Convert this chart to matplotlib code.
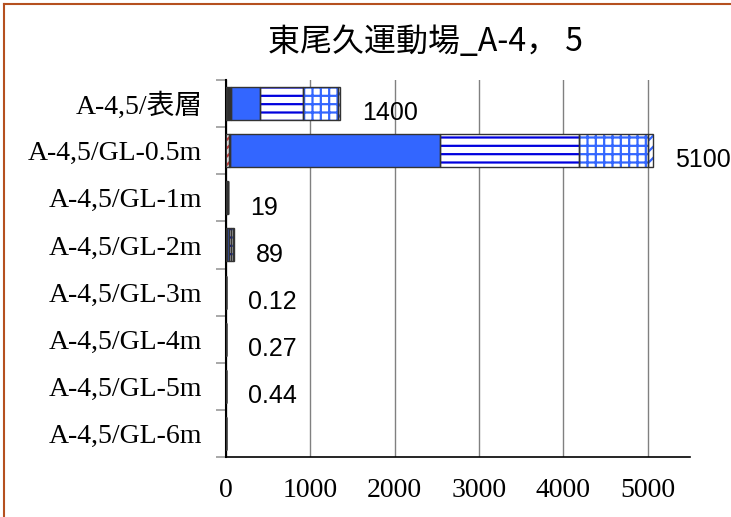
import matplotlib.pyplot as plt
import numpy as np
from matplotlib.lines import Line2D

plt.rcParams['hatch.linewidth'] = 1.6

categories = ["A-4,5/表層", "A-4,5/GL-0.5m", "A-4,5/GL-1m", "A-4,5/GL-2m",
              "A-4,5/GL-3m", "A-4,5/GL-4m", "A-4,5/GL-5m", "A-4,5/GL-6m"]

# stacked components
seg1 = [10, 30, 2, 3, 0.01, 0.02, 0.03, 0.0]
seg2 = [50, 20, 14, 6, 0.05, 0.1, 0.15, 0.0]
seg3 = [340, 2490, 2, 25, 0.03, 0.08, 0.12, 0.0]
seg4 = [510, 1640, 1, 20, 0.02, 0.04, 0.08, 0.0]
seg5 = [415, 820, 0, 30, 0.01, 0.02, 0.04, 0.0]
seg6 = [25, 60, 0, 5, 0.0, 0.01, 0.02, 0.0]

total_labels = ["1400", "5100", "19", "89", "0.12", "0.27", "0.44", ""]
xticks = [0, 1000, 2000, 3000, 4000, 5000]

serif = ['Liberation Serif', 'Noto Sans CJK JP']
cjk = ['Noto Sans CJK JP', 'DejaVu Sans']

fig = plt.figure(figsize=(7.31, 5.17), dpi=100)
ax = fig.add_axes([226 / 731, 60 / 517, 464 / 731, 377 / 517])

y = np.arange(len(categories))
h = 0.7
styles = [
    dict(face="white", hatch="////", hcolor="#E04040"),
    dict(face="#303030", hatch=None, hcolor=None),
    dict(face="#3366FF", hatch=None, hcolor=None),
    dict(face="white", hatch="--", hcolor="#0000DD"),
    dict(face="white", hatch="++", hcolor="#3366FF"),
    dict(face="white", hatch="///", hcolor="#3366FF"),
]
left = np.zeros(len(categories))
for vals, st in zip([seg1, seg2, seg3, seg4, seg5, seg6], styles):
    vals = np.array(vals, dtype=float)
    if st["hatch"]:
        ax.barh(y, vals, left=left, height=h, color=st["face"], hatch=st["hatch"],
                edgecolor=st["hcolor"], linewidth=0, zorder=3)
    else:
        ax.barh(y, vals, left=left, height=h, color=st["face"], linewidth=0, zorder=3)
    ax.barh(y, vals, left=left, height=h, fill=False, edgecolor="#333333",
            linewidth=1.0, zorder=4)
    left += vals

for yi, tot, lab in zip(y, left, total_labels):
    if lab:
        ax.annotate(lab, xy=(tot, yi), xytext=(16, -7), textcoords="offset points",
                    ha="left", va="center", fontsize=18, family="Liberation Sans",
                    annotation_clip=False)

ax.set_xlim(0, 5500)
ax.set_ylim(len(categories) - 0.5, -0.5)
ax.set_xticks(xticks)
ax.set_xticklabels([str(t) for t in xticks], family=serif, fontsize=20)
ax.tick_params(axis="x", length=0, pad=15)
ax.set_yticks(y)
ax.set_yticklabels(categories, family=serif, fontsize=20)
ax.tick_params(axis="y", length=0, pad=17)
ax.set_yticks(np.arange(len(categories) + 1) - 0.5, minor=True)
ax.tick_params(axis="y", which="minor", length=7, color="#999999", width=1.2)

ax.grid(axis="x", color="#808080", linewidth=1.0, zorder=0)
ax.set_axisbelow(True)
for s in ["top", "right"]:
    ax.spines[s].set_visible(False)
ax.spines["left"].set_color("black")
ax.spines["left"].set_linewidth(1.5)
ax.spines["bottom"].set_color("black")
ax.spines["bottom"].set_linewidth(1.2)

fig.text(426 / 731, 1 - 42 / 517, "東尾久運動場_A-4， 5", ha="center", va="center",
         fontsize=23, family=cjk)

# chart area border
fig.add_artist(Line2D([4 / 731, 4 / 731], [0, 1 - 4 / 517], transform=fig.transFigure,
                      color="#B5501F", linewidth=1.5))
fig.add_artist(Line2D([4 / 731, 1], [1 - 4 / 517, 1 - 4 / 517], transform=fig.transFigure,
                      color="#B5501F", linewidth=1.5))

fig.savefig("out.png", dpi=100)
